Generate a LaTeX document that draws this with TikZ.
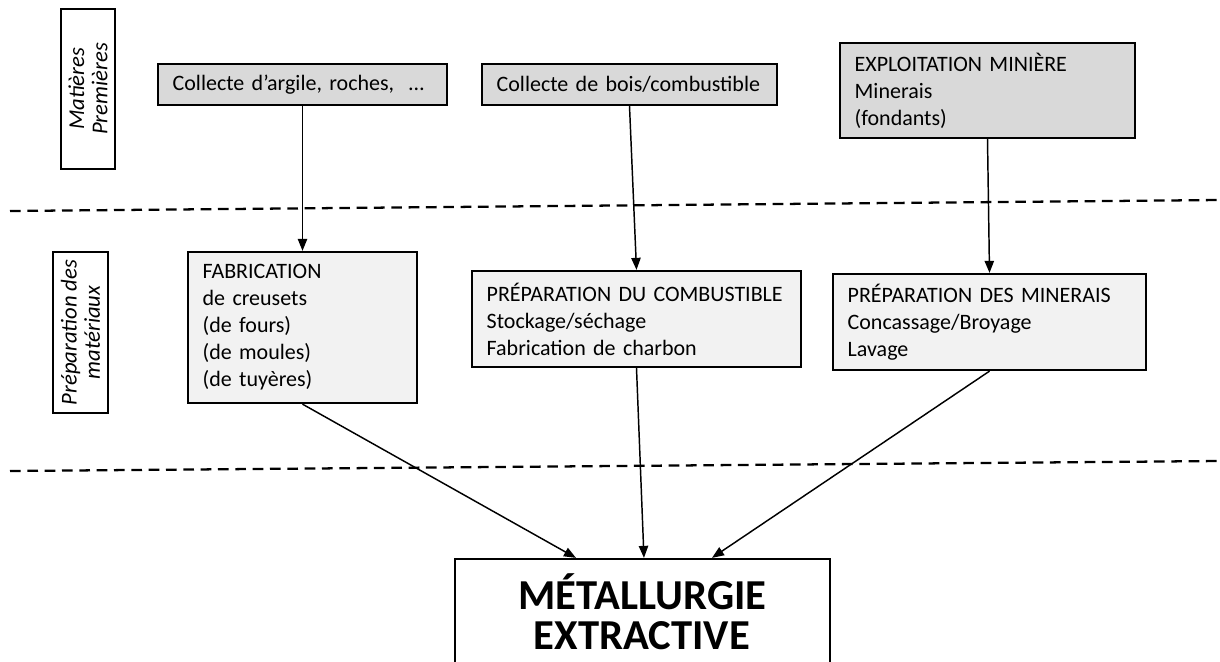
\documentclass[tikz,border=0pt]{standalone}
\usepackage{fontspec}
\setmainfont{Carlito}
\usetikzlibrary{arrows.meta}
\begin{document}
\begin{tikzpicture}
  [x=0.75pt,y=-0.75pt,
   box/.style={draw,line width=1.7pt,rectangle,align=left,inner xsep=11pt,font=\fontsize{16.5}{20.25}\selectfont},
   topbox/.style={box,fill=black!15},
   midbox/.style={box,fill=black!5},
   sidebox/.style={draw,line width=1.7pt,rotate=90,align=center,font=\fontsize{17}{17.5}\selectfont\itshape},
   endbox/.style={draw,line width=1.7pt,align=center,font=\fontsize{32}{30}\selectfont\bfseries},
   sep/.style={line width=1.7pt,dash pattern=on 8pt off 5pt},
   arr/.style={-{Triangle[length=9pt,width=7pt]},line width=1.1pt}]
  \useasboundingbox (0,0) rectangle (1220,661);
  \clip (0,0) rectangle (1220,661);

  % side labels
  \node[sidebox,minimum width=120pt,minimum height=40.5pt,inner sep=1pt] (raw) at (88,89) {Matières\\Premières};
  \node[sidebox,minimum width=120.75pt,minimum height=41.25pt,inner sep=1pt] (prep) at (80.5,332.5) {Préparation des\\matériaux};

  % separators
  \draw[sep] (10,211) -- (1220,200);
  \draw[sep] (10,471) -- (1220,461);

  % raw materials
  \node[topbox,text width=194.75pt,minimum height=30.75pt] (A) at (302.5,84.5) {Collecte d’argile, roches,\ \ …};
  \node[topbox,text width=199.25pt,minimum height=30.75pt] (B) at (629.5,84.5) {Collecte de bois/combustible};
  \node[topbox,text width=199.25pt,minimum height=71.25pt] (C) at (987.5,90.5) {EXPLOITATION MINIÈRE\\Minerais\\(fondants)};

  % preparation
  \node[midbox,text width=149.75pt,minimum height=113.25pt] (D) at (302.5,327.5) {FABRICATION\\de creusets\\(de fours)\\(de moules)\\(de tuyères)};
  \node[midbox,text width=224.75pt,minimum height=72pt] (E) at (636.5,319) {PRÉPARATION DU COMBUSTIBLE\\Stockage/séchage\\Fabrication de charbon};
  \node[midbox,text width=212.75pt,minimum height=72pt] (F) at (989.5,322) {PRÉPARATION DES MINERAIS\\Concassage/Broyage\\Lavage};

  % result
  \node[endbox,minimum width=281.25pt,minimum height=79.5pt] (G) at (642.5,612) {MÉTALLURGIE\\EXTRACTIVE\hspace*{1pt}};
  \coordinate (gl) at ([xshift=-49.9pt]G.north);
  \coordinate (gm) at ([xshift=1.1pt]G.north);
  \coordinate (gr) at ([xshift=52.1pt]G.north);

  \foreach \from/\to in {A.south/D.north,B.south/E.north,C.south/F.north,D.south/gl,E.south/gm,F.south/gr}
    \draw[arr] (\from) -- (\to);
\end{tikzpicture}
\end{document}
